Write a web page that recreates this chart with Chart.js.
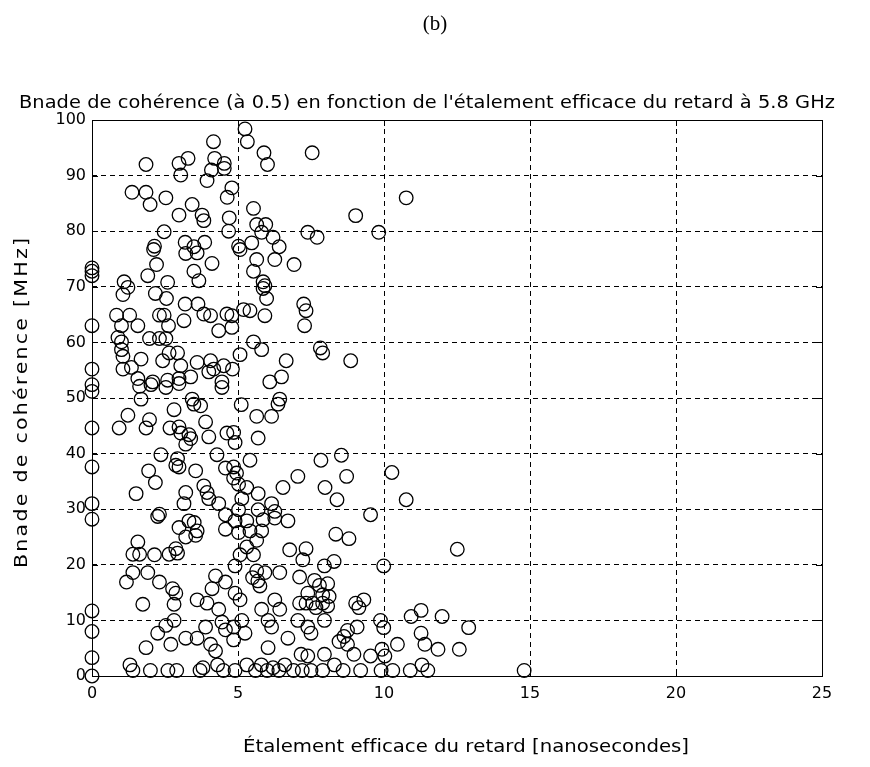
<!DOCTYPE html>
<html>
<head>
<meta charset="utf-8">
<script src="https://cdn.jsdelivr.net/npm/chart.js@4.4.1/dist/chart.umd.min.js"></script>
<style>
  html, body { margin: 0; padding: 0; background: #fff; }
  #wrap { width: 870px; height: 767px; position: relative; }
</style>
</head>
<body>
<div id="wrap"><canvas id="c" width="870" height="767"></canvas></div>
<script>
// RMS delay spread (ns) of each measured channel
const delaySpread = [
  0,0,0,0,0,0,0,0,0,0,0,0,0,0,0,
  1.85,2.98,3.29,3.04,4.16,4.2,4.09,4.53,4.53,3.94,4.79,4.63,1.37,1.85,1.99,2.53,3.43,2.98,3.77,3.83,2.47,4.7,4.68,2.14,3.19,3.49,3.86,
  5.24,5.32,5.89,6.01,7.54,5.53,9.03,5.64,5.95,5.81,7.39,7.71,6.2,9.82,5.02,5.47,6.41,10.76,
  2.11,2.21,1.91,1.1,1.23,1.06,2.59,3.21,3.6,3.49,3.66,4.11,2.17,2.55,3.19,3.63,3.83,4.06,0.84,1.29,1.57,1.01,2.31,2.47,2.62,3.15,4.62,4.34,
  0.89,1.01,1.97,2.31,2.53,1.01,1.06,1.68,1.35,1.06,2.42,2.64,2.93,3.04,3.6,4.06,4.17,4.51,1.57,2.08,2.59,2.98,3.38,4.0,4.45,
  5.07,5.64,6.26,6.92,5.53,5.86,5.92,5.86,5.98,7.25,7.33,7.28,5.19,5.41,5.92,4.79,4.79,5.53,5.81,5.07,7.82,7.9,8.86,6.65,4.81,6.49,6.09,
  1.63,2.02,2.53,2.98,4.45,1.68,3.43,3.49,3.72,2.81,1.23,0.93,1.97,1.85,3.89,2.67,2.98,3.04,3.32,3.38,3.21,4.0,4.62,
  2.36,2.93,2.87,2.98,3.55,4.28,4.57,1.94,2.17,1.51,3.21,3.83,3.94,4.0,3.15,4.34,2.31,4.57,
  6.43,6.37,5.11,5.64,6.15,4.85,4.9,5.69,5.41,4.85,4.95,4.85,7.84,8.54,7.05,8.72,6.54,7.98,8.39,5.02,5.3,5.69,5.13,6.15,5.02,5.69,6.26,9.54,
  10.27,10.76,
  2.25,2.98,3.32,3.5,3.6,3.55,4.57,3.21,2.87,2.93,1.57,1.4,1.63,2.14,2.64,1.4,1.91,1.18,2.31,2.76,2.87,2.81,1.74,3.6,3.94,4.23,4.57,4.11,4.34,
  2.81,2.53,2.25,3.89,4.45,4.57,2.7,3.21,3.6,4.06,4.23,1.85,
  4.9,5.3,5.86,6.26,6.71,5.02,5.41,5.81,5.64,5.3,5.07,5.53,8.35,8.8,6.77,7.33,7.22,7.96,8.29,4.9,5.64,5.92,6.43,5.5,5.68,5.75,7.11,
  7.62,7.79,8.07,7.39,7.9,8.12,7.33,7.56,7.9,8.07,7.11,7.67,9.03,9.14,9.31,4.9,5.07,6.26,5.81,6.43,
  5.13,6.03,7.05,7.96,9.88,4.85,5.24,6.15,7.39,7.5,8.75,8.63,9.08,4.85,6.71,6.03,8.46,8.75,9.54,7.16,7.39,7.96,8.97,
  12.51,9.99,11.27,10.93,11.99,9.99,12.9,11.27,10.46,11.4,11.85,12.58,9.93,10.03,
  1.3,1.4,2.0,2.6,2.9,3.7,3.8,4.3,4.5,4.9,5.3,5.6,5.8,6.0,6.2,6.4,6.6,6.9,7.2,7.5,7.9,8.3,8.6,9.2,9.9,10.3,10.9,11.3,11.5,14.8
];

// Coherence bandwidth at correlation 0.5 (MHz), same order as delaySpread
const coherenceBandwidth = [
  73.4,72.8,72.0,63.0,55.2,52.4,51.2,44.6,37.6,31.0,28.2,11.7,8.0,3.3,0,
  92.0,92.2,93.1,90.1,96.1,93.1,91.0,92.2,91.3,89.1,87.8,86.1,87.0,87.0,84.8,86.0,84.8,82.9,82.9,81.9,79.9,82.4,80.0,77.3,78.0,77.2,78.0,
  98.4,96.1,94.1,92.0,94.1,84.1,82.8,81.2,81.2,79.8,79.8,78.9,78.9,79.8,77.3,77.9,77.2,86.0,
  76.7,74.0,72.0,70.9,69.9,68.6,70.8,76.0,76.1,72.8,71.1,74.2,68.8,67.9,66.9,66.9,65.1,64.8,64.9,64.9,63.0,63.0,64.9,64.9,63.0,63.9,65.1,62.1,
  60.9,60.1,60.7,60.7,60.7,58.7,57.5,57.0,55.5,55.2,56.7,58.1,58.1,55.8,56.4,56.7,55.2,55.8,53.5,52.9,53.2,53.5,53.8,54.7,52.9,
  76.7,74.9,74.9,74.0,72.8,70.9,70.2,69.7,67.9,66.9,65.7,63.0,65.9,65.7,64.8,64.8,62.7,60.1,58.7,57.8,59.0,58.1,56.7,56.7,55.2,53.8,52.9,
  52.1,52.4,51.9,52.6,51.9,49.8,49.8,48.9,48.6,47.9,46.9,44.6,46.1,44.6,45.7,44.6,44.8,43.7,43.4,42.7,41.7,43.0,43.7,
  39.8,39.1,37.9,37.6,36.9,39.8,37.4,36.9,34.8,32.8,33.0,34.2,33.0,31.9,31.0,31.0,29.1,29.0,
  49.8,48.9,48.8,46.7,46.7,43.8,42.0,42.8,38.8,37.6,36.5,35.6,38.8,39.7,35.9,35.9,33.9,33.9,31.7,34.5,33.9,32.8,31.9,31.0,29.9,29.9,29.6,29.0,
  36.6,31.7,
  28.7,26.7,27.9,27.6,26.1,25.3,26.4,25.0,22.9,22.1,24.1,21.9,21.9,21.8,21.9,18.6,18.6,16.9,16.9,15.7,14.9,12.9,12.9,13.7,13.1,18.0,16.9,15.7,12.0,
  10.0,9.1,7.7,8.8,9.7,8.3,5.7,6.8,6.8,5.7,4.5,5.1,
  27.9,27.9,28.1,28.4,27.9,25.8,26.1,26.1,24.4,23.2,21.8,21.8,25.5,24.7,22.7,22.9,20.9,19.8,20.6,19.8,18.9,18.6,18.6,17.7,17.1,16.2,17.8,
  17.2,16.3,16.6,14.9,14.6,14.3,13.1,13.1,13.1,12.6,13.1,12.3,13.1,12.3,13.7,14.9,13.7,13.7,12.0,12.0,
  10.0,10.0,10.0,10.0,10.0,8.8,7.7,8.8,8.8,7.7,8.2,7.1,8.8,6.5,6.8,5.1,6.2,5.7,3.6,3.9,3.6,3.9,3.9,
  22.8,19.8,11.8,10.7,10.7,8.7,8.7,7.7,5.7,5.7,4.8,4.8,4.8,3.6,
  2,1,1,1,1,1,1.5,2,1,1,2,1,2,1,1.5,1,2,1,1,1,1,2,1,1,1,1,1,2,1,1
];

const xTicks = [0, 5, 10, 15, 20, 25];
const yTicks = [0, 10, 20, 30, 40, 50, 60, 70, 80, 90, 100];

const panelLabel = '(b)';
const chartTitle = "Bnade de cohérence (à 0.5) en fonction de l'étalement efficace du retard à 5.8 GHz";
const xTitle = 'Étalement efficace du retard [nanosecondes]';
const yTitle = 'Bnade de cohérence [MHz]';

const uiFont = '"DejaVu Sans", "Liberation Sans", sans-serif';

const points = delaySpread.map((x, i) => ({ x: x, y: coherenceBandwidth[i] }));

// Draws a string centred on (cx, y) so that it spans the given width:
// glyphs are widened a little first, any remainder goes into letter gaps
function fitText(ctx, text, cx, y, width) {
  const chars = Array.from(text);
  const widths = chars.map(ch => ctx.measureText(ch).width);
  const natural = widths.reduce((s, w) => s + w, 0);
  const sx = Math.min(1.14, width / natural);
  const gap = chars.length > 1 ? (width - natural * sx) / (chars.length - 1) : 0;
  ctx.save();
  ctx.translate(cx - width / 2, y);
  ctx.scale(sx, 1);
  ctx.textAlign = 'left';
  let x = 0;
  chars.forEach((ch, i) => {
    ctx.fillText(ch, x, 0);
    x += widths[i] + gap / sx;
  });
  ctx.restore();
}

// Frame, inward ticks and all text drawn around the plot area
const framePlugin = {
  id: 'frame',
  afterDraw(chart) {
    const { ctx, chartArea: a, scales } = chart;
    ctx.save();
    ctx.strokeStyle = '#000';
    ctx.lineWidth = 1;
    ctx.setLineDash([]);
    ctx.strokeRect(a.left + 0.5, a.top + 0.5, a.right - a.left, a.bottom - a.top);
    const tl = 6;
    ctx.beginPath();
    xTicks.forEach(v => {
      const px = Math.round(scales.x.getPixelForValue(v)) + 0.5;
      ctx.moveTo(px, a.bottom); ctx.lineTo(px, a.bottom - tl);
      ctx.moveTo(px, a.top); ctx.lineTo(px, a.top + tl);
    });
    yTicks.forEach(v => {
      const py = Math.round(scales.y.getPixelForValue(v)) + 0.5;
      ctx.moveTo(a.left, py); ctx.lineTo(a.left + tl, py);
      ctx.moveTo(a.right, py); ctx.lineTo(a.right - tl, py);
    });
    ctx.stroke();

    ctx.fillStyle = '#000';
    ctx.textBaseline = 'middle';
    ctx.textAlign = 'center';
    ctx.font = '21px "Liberation Serif", "DejaVu Serif", serif';
    ctx.fillText(panelLabel, 435, 24);

    ctx.font = '17px ' + uiFont;
    fitText(ctx, chartTitle, 427, a.top - 16, 816);

    ctx.font = '18px ' + uiFont;
    fitText(ctx, xTitle, 466, a.bottom + 71, 446);

    ctx.save();
    ctx.translate(22, 403);
    ctx.rotate(-Math.PI / 2);
    ctx.font = '18px ' + uiFont;
    fitText(ctx, yTitle, 0, 0, 330);
    ctx.restore();
    ctx.restore();
  }
};

new Chart(document.getElementById('c'), {
  type: 'scatter',
  data: {
    datasets: [{
      data: points,
      pointStyle: 'circle',
      pointRadius: 6.8,
      pointBorderWidth: 1.3,
      pointBorderColor: '#000',
      pointBackgroundColor: 'rgba(0,0,0,0)',
      clip: false
    }]
  },
  options: {
    responsive: false,
    animation: false,
    devicePixelRatio: 1,
    layout: { padding: { left: 0, right: 48, top: 120, bottom: 0 } },
    plugins: { legend: { display: false }, tooltip: { enabled: false } },
    scales: {
      x: {
        type: 'linear',
        min: 0, max: 25,
        afterBuildTicks: s => { s.ticks = xTicks.map(v => ({ value: v })); },
        afterFit: s => { s.height = 91; },
        ticks: { color: '#000', font: { family: uiFont, size: 16 }, padding: 8, maxRotation: 0 },
        grid: { color: '#000', lineWidth: 1, drawTicks: false },
        border: { display: false, dash: [5, 4] }
      },
      y: {
        type: 'linear',
        min: 0, max: 100,
        afterBuildTicks: s => { s.ticks = yTicks.map(v => ({ value: v })); },
        afterFit: s => { s.width = 92; },
        ticks: { color: '#000', font: { family: uiFont, size: 16 }, padding: 6 },
        grid: { color: '#000', lineWidth: 1, drawTicks: false },
        border: { display: false, dash: [5, 4] }
      }
    }
  },
  plugins: [framePlugin]
});
</script>
</body>
</html>
